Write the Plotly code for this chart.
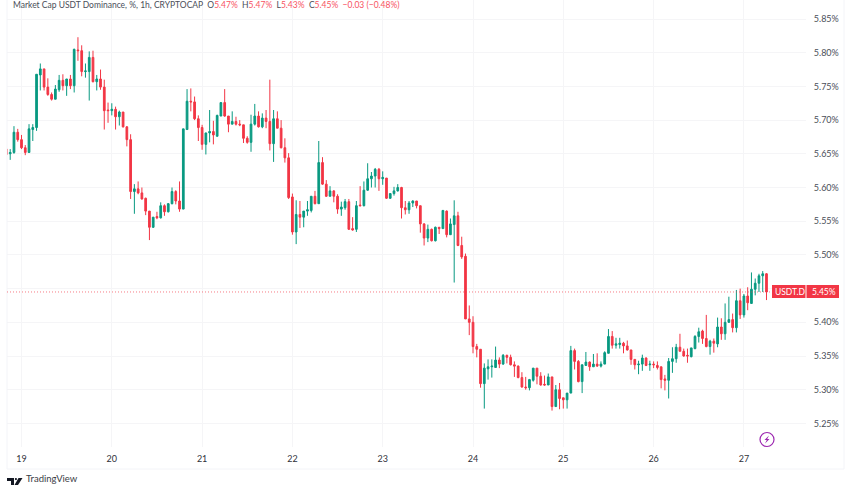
import plotly.graph_objects as go

open_ = [5.657,5.650,5.652,5.682,5.671,5.659,5.652,5.686,5.689,5.767,
5.776,5.749,5.738,5.731,5.745,5.759,5.751,5.761,5.751,5.804,
5.803,5.772,5.772,5.793,5.757,5.761,5.749,5.715,5.714,5.716,
5.705,5.712,5.690,5.671,5.594,5.598,5.592,5.584,5.565,5.541,
5.557,5.555,5.573,5.564,5.576,5.594,5.580,5.568,5.686,5.728,
5.727,5.702,5.689,5.664,5.681,5.683,5.676,5.706,5.726,5.706,
5.694,5.698,5.694,5.693,5.673,5.667,5.694,5.706,5.690,5.703,
5.698,5.665,5.702,5.688,5.659,5.644,5.586,5.534,5.560,5.556,
5.565,5.566,5.587,5.576,5.637,5.605,5.587,5.595,5.587,5.568,
5.570,5.579,5.539,5.538,5.574,5.573,5.596,5.613,5.617,5.627,
5.613,5.614,5.584,5.591,5.595,5.600,5.570,5.567,5.577,5.580,
5.573,5.546,5.525,5.538,5.521,5.541,5.539,5.565,5.530,5.545,
5.558,5.514,5.498,5.405,5.400,5.364,5.360,5.309,5.331,5.334,
5.333,5.344,5.338,5.351,5.348,5.337,5.335,5.318,5.304,5.303,
5.314,5.332,5.320,5.308,5.307,5.319,5.275,5.300,5.288,5.285,
5.295,5.358,5.342,5.312,5.336,5.341,5.334,5.338,5.335,5.338,
5.354,5.379,5.366,5.367,5.369,5.365,5.359,5.345,5.337,5.338,
5.347,5.337,5.338,5.336,5.334,5.316,5.314,5.342,5.346,5.363,
5.357,5.351,5.349,5.361,5.379,5.387,5.376,5.364,5.372,5.368,
5.393,5.383,5.400,5.404,5.392,5.432,5.411,5.439,5.428,5.449,
5.458,5.469,5.472]

high = [5.658,5.657,5.691,5.687,5.678,5.663,5.694,5.694,5.768,5.784,
5.776,5.762,5.741,5.752,5.767,5.768,5.761,5.767,5.806,5.823,
5.811,5.784,5.802,5.803,5.767,5.775,5.760,5.726,5.725,5.720,
5.714,5.712,5.691,5.679,5.605,5.609,5.600,5.585,5.565,5.556,
5.564,5.578,5.575,5.577,5.600,5.596,5.609,5.687,5.746,5.747,
5.735,5.707,5.693,5.681,5.715,5.699,5.708,5.726,5.746,5.706,
5.713,5.705,5.700,5.693,5.676,5.708,5.724,5.713,5.710,5.715,
5.760,5.715,5.713,5.700,5.673,5.651,5.591,5.581,5.580,5.565,
5.580,5.587,5.595,5.669,5.645,5.611,5.602,5.596,5.590,5.579,
5.583,5.583,5.556,5.580,5.602,5.609,5.636,5.623,5.629,5.629,
5.624,5.614,5.591,5.601,5.605,5.601,5.580,5.580,5.581,5.580,
5.573,5.547,5.545,5.539,5.542,5.541,5.566,5.566,5.554,5.581,
5.564,5.527,5.502,5.425,5.409,5.368,5.360,5.339,5.345,5.345,
5.364,5.348,5.353,5.352,5.352,5.342,5.336,5.326,5.319,5.316,
5.332,5.332,5.326,5.321,5.324,5.319,5.307,5.310,5.288,5.295,
5.365,5.361,5.344,5.337,5.356,5.342,5.353,5.354,5.342,5.357,
5.390,5.387,5.377,5.377,5.371,5.373,5.359,5.345,5.343,5.352,
5.348,5.343,5.342,5.342,5.334,5.322,5.347,5.363,5.368,5.383,
5.361,5.361,5.362,5.381,5.392,5.389,5.411,5.374,5.376,5.407,
5.406,5.428,5.438,5.413,5.448,5.450,5.442,5.452,5.474,5.465,
5.472,5.476,5.473]

low = [5.648,5.641,5.650,5.668,5.657,5.648,5.652,5.669,5.684,5.744,
5.744,5.736,5.729,5.731,5.742,5.744,5.736,5.746,5.741,5.788,
5.765,5.763,5.729,5.756,5.744,5.745,5.686,5.696,5.707,5.686,
5.692,5.689,5.661,5.583,5.561,5.590,5.582,5.559,5.522,5.540,
5.553,5.554,5.558,5.563,5.575,5.575,5.564,5.568,5.686,5.713,
5.700,5.669,5.656,5.649,5.667,5.664,5.676,5.706,5.705,5.682,
5.694,5.692,5.691,5.666,5.665,5.653,5.692,5.689,5.688,5.688,
5.655,5.638,5.688,5.658,5.637,5.583,5.530,5.516,5.540,5.541,
5.558,5.563,5.575,5.576,5.604,5.586,5.587,5.578,5.561,5.558,
5.567,5.537,5.536,5.534,5.572,5.572,5.595,5.600,5.600,5.595,
5.604,5.583,5.583,5.588,5.594,5.554,5.560,5.561,5.571,5.569,
5.533,5.514,5.519,5.520,5.520,5.531,5.539,5.526,5.530,5.459,
5.513,5.494,5.405,5.381,5.354,5.348,5.303,5.272,5.315,5.318,
5.333,5.332,5.337,5.339,5.336,5.319,5.317,5.303,5.300,5.299,
5.312,5.308,5.306,5.306,5.307,5.269,5.275,5.271,5.272,5.272,
5.295,5.330,5.311,5.295,5.336,5.328,5.334,5.334,5.333,5.338,
5.354,5.361,5.361,5.361,5.354,5.358,5.337,5.330,5.323,5.328,
5.335,5.328,5.332,5.330,5.302,5.299,5.287,5.325,5.340,5.357,
5.349,5.340,5.348,5.360,5.370,5.368,5.363,5.352,5.355,5.363,
5.374,5.374,5.399,5.385,5.385,5.405,5.407,5.418,5.428,5.440,
5.445,5.445,5.433]

close = [5.649,5.652,5.682,5.671,5.659,5.652,5.687,5.689,5.768,5.776,
5.749,5.738,5.731,5.746,5.759,5.751,5.761,5.751,5.805,5.803,
5.772,5.773,5.793,5.757,5.761,5.749,5.714,5.714,5.716,5.705,
5.712,5.690,5.671,5.594,5.598,5.592,5.583,5.565,5.541,5.556,
5.555,5.573,5.564,5.576,5.594,5.580,5.568,5.687,5.728,5.727,
5.702,5.689,5.664,5.681,5.683,5.678,5.707,5.726,5.706,5.694,
5.698,5.694,5.693,5.673,5.667,5.694,5.706,5.690,5.703,5.698,
5.665,5.702,5.688,5.659,5.644,5.585,5.534,5.560,5.556,5.565,
5.567,5.587,5.576,5.637,5.605,5.587,5.595,5.587,5.568,5.571,
5.579,5.538,5.537,5.573,5.573,5.596,5.613,5.617,5.627,5.613,
5.615,5.584,5.591,5.595,5.600,5.570,5.567,5.577,5.580,5.573,
5.546,5.525,5.538,5.521,5.541,5.539,5.566,5.530,5.546,5.558,
5.514,5.497,5.405,5.400,5.364,5.360,5.309,5.332,5.334,5.335,
5.344,5.338,5.351,5.348,5.337,5.335,5.318,5.304,5.303,5.315,
5.332,5.320,5.307,5.307,5.319,5.275,5.300,5.287,5.285,5.295,
5.358,5.342,5.312,5.337,5.341,5.334,5.338,5.335,5.338,5.355,
5.379,5.366,5.368,5.369,5.365,5.359,5.345,5.337,5.338,5.347,
5.336,5.338,5.337,5.333,5.315,5.314,5.342,5.346,5.363,5.357,
5.350,5.350,5.362,5.379,5.386,5.376,5.364,5.372,5.369,5.393,
5.383,5.400,5.404,5.392,5.432,5.411,5.439,5.429,5.449,5.458,
5.469,5.472,5.445]

bar_index = list(range(len(close)))
day_ticks = [4, 28, 52, 76, 100, 124, 148, 172, 196]
day_labels = ["19", "20", "21", "22", "23", "24", "25", "26", "27"]
price_ticks = [5.25, 5.30, 5.35, 5.40, 5.45, 5.50, 5.55, 5.60, 5.65, 5.70, 5.75, 5.80, 5.85]
price_labels = ["5.25%", "5.30%", "5.35%", "5.40%", "", "5.50%", "5.55%", "5.60%", "5.65%", "5.70%", "5.75%", "5.80%", "5.85%"]
last_price_label = "5.45%"
symbol_label = "USDT.D"
title_text = "Market Cap USDT Dominance, %, 1h, CRYPTOCAP"

W, H = 852, 485
L, R, T, B = 7, 806, 0, 447
UP, DOWN = "#089981", "#F23645"
TXT = "#4a4e59"
FONT = "Lato, sans-serif"


def px(x):
    return (x - L) / (R - L)


def py(y):
    return (B - y) / (B - T)


fig = go.Figure(go.Candlestick(
    x=bar_index, open=open_, high=high, low=low, close=close,
    increasing=dict(line=dict(color=UP, width=1), fillcolor=UP),
    decreasing=dict(line=dict(color=DOWN, width=1), fillcolor=DOWN),
    whiskerwidth=0, showlegend=False, hoverinfo="skip",
))

line_c = "#f3f4f8"
shapes = [
    dict(type="line", xref="paper", yref="paper", x0=px(7), x1=px(7), y0=py(0), y1=py(469), line=dict(color=line_c, width=1)),
    dict(type="line", xref="paper", yref="paper", x0=px(7), x1=px(844), y0=py(469), y1=py(469), line=dict(color=line_c, width=1)),
    dict(type="line", xref="paper", yref="paper", x0=px(844), x1=px(844), y0=py(0), y1=py(469), line=dict(color=line_c, width=1)),
    dict(type="line", xref="paper", yref="y", x0=px(7), x1=px(772), y0=close[-1], y1=close[-1],
         line=dict(color=DOWN, width=1, dash="1px 2px"), opacity=0.65, layer="above"),
    dict(type="rect", xref="paper", yref="paper", x0=px(772), x1=px(805.5), y0=py(285), y1=py(298), fillcolor=DOWN, line=dict(width=0)),
    dict(type="rect", xref="paper", yref="paper", x0=px(806.5), x1=px(839), y0=py(285), y1=py(298), fillcolor=DOWN, line=dict(width=0)),
    dict(type="circle", xref="paper", yref="paper", x0=px(760), x1=px(774), y0=py(432.5), y1=py(446.5),
         line=dict(color="#9c27b0", width=1.2), fillcolor="white"),
]


def pth(pts):
    return "M" + " L".join(f"{px(a):.5f},{py(b):.5f}" for a, b in pts) + " Z"


shapes.append(dict(type="path", xref="paper", yref="paper", path=pth([(769, 435.5), (764.5, 440), (766.8, 440), (765, 443.5), (769.5, 439), (767.2, 439)]),
                   fillcolor="#9c27b0", line=dict(width=0)))
# TradingView mark
shapes.append(dict(type="path", xref="paper", yref="paper", path=pth([(7, 478), (14, 478), (14, 485), (11, 485), (11, 481), (7, 481)]),
                   fillcolor="#131722", line=dict(width=0)))
shapes.append(dict(type="circle", xref="paper", yref="paper", x0=px(14.8), x1=px(17), y0=py(478), y1=py(480.2),
                   fillcolor="#131722", line=dict(width=0)))
shapes.append(dict(type="path", xref="paper", yref="paper", path=pth([(18.5, 478), (22.5, 478), (18, 485), (14.5, 485)]),
                   fillcolor="#131722", line=dict(width=0)))

R_C = "#f7525f"
header = (f'<span style="color:{TXT}">{title_text}</span>'
          f'  <span style="color:{TXT}">O</span><span style="color:{R_C}">5.47%</span>'
          f'  <span style="color:{TXT}">H</span><span style="color:{R_C}">5.47%</span>'
          f'  <span style="color:{TXT}">L</span><span style="color:{R_C}">5.43%</span>'
          f'  <span style="color:{TXT}">C</span><span style="color:{R_C}">5.45%</span>'
          f'  <span style="color:{R_C}">\u22120.03 (\u22120.48%)</span>')

annotations = [
    dict(xref="paper", yref="paper", x=px(12), y=py(5.5), text=header, showarrow=False, xanchor="left", yanchor="middle",
         font=dict(family=FONT, size=8.5, color=TXT), borderpad=0),
    dict(xref="paper", yref="paper", x=px(789.5), y=py(291.5), text=symbol_label, showarrow=False, xanchor="center", yanchor="middle",
         font=dict(family=FONT, size=8.5, color="white")),
    dict(xref="paper", yref="paper", x=px(824), y=py(291.5), text=last_price_label, showarrow=False, xanchor="center", yanchor="middle",
         font=dict(family=FONT, size=8.5, color="white")),
    dict(xref="paper", yref="paper", x=px(25), y=py(478.5), text="TradingView", showarrow=False, xanchor="left", yanchor="middle",
         font=dict(family=FONT, size=9.5, color="#3a3d46"), borderpad=0),
]

fig.update_layout(
    width=W, height=H, autosize=False,
    margin=dict(l=L, r=W - R, t=T, b=H - B, pad=0),
    paper_bgcolor="white", plot_bgcolor="white",
    boxgap=0.35, shapes=shapes, annotations=annotations,
    font=dict(family=FONT, size=9, color=TXT), showlegend=False,
    xaxis=dict(range=[0.146, 212.5], tickmode="array", tickvals=day_ticks, ticktext=day_labels,
               rangeslider=dict(visible=False), showgrid=True, gridcolor="#f5f5f7", gridwidth=1, zeroline=False,
               showline=False, ticks="outside", ticklen=3, tickcolor="rgba(0,0,0,0)",
               tickfont=dict(family=FONT, size=9, color="#2f323a")),
    yaxis=dict(range=[5.215, 5.8782], side="right", tickmode="array", tickvals=price_ticks, ticktext=price_labels,
               showgrid=True, gridcolor="#f5f5f7", gridwidth=1, zeroline=False, showline=False,
               ticks="outside", ticklen=5, tickcolor="rgba(0,0,0,0)",
               tickfont=dict(family=FONT, size=9, color=TXT)),
)

fig.write_html("out.html", config={"displayModeBar": False}, post_script="document.body.style.margin='0';")
